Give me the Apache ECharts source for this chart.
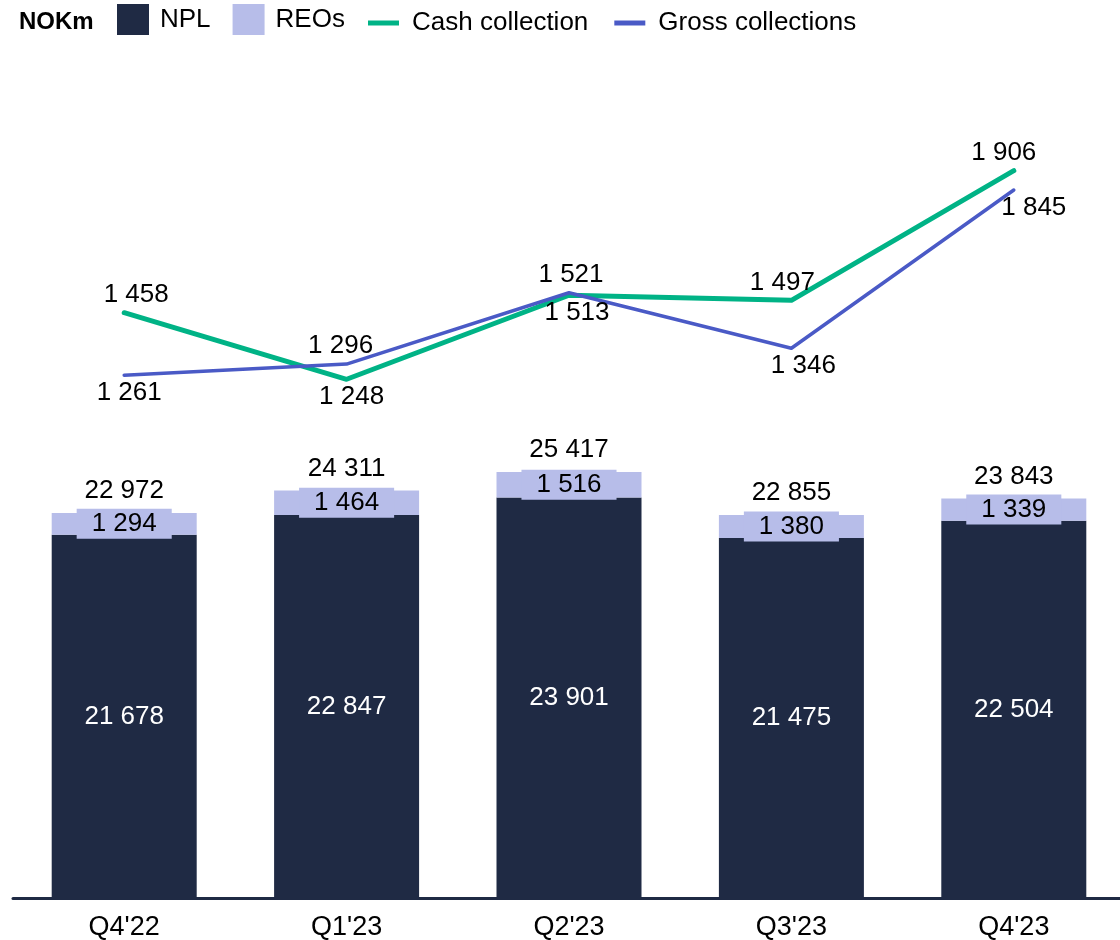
<!DOCTYPE html>
<html>
<head>
<meta charset="utf-8">
<script src="https://cdn.jsdelivr.net/npm/echarts@6/dist/echarts.min.js"></script>
<style>
  html, body { margin: 0; padding: 0; background: #fff; }
  #chart { width: 1120px; height: 940px; }
</style>
</head>
<body>
<div id="chart"></div>
<script>
const quarters = ["Q4'22", "Q1'23", "Q2'23", "Q3'23", "Q4'23"];
const npl = [21678, 22847, 23901, 21475, 22504];
const reos = [1294, 1464, 1516, 1380, 1339];
const cashCollection = [1458, 1248, 1513, 1497, 1906];
const grossCollections = [1261, 1296, 1521, 1346, 1845];

// label placement for the two lines (not data)
const cashLabelPos = ['top', 'bottom', 'bottom', 'top', 'top'];
const cashLabelDx = [12, 5, 8, -9, -10];
const grossLabelPos = ['bottom', 'top', 'top', 'bottom', 'bottom'];
const grossLabelDx = [5, -6, 2, 12, 20];

const NAVY = '#1f2a44';
const LAVENDER = '#b7bde9';
const GREEN = '#00b386';
const BLUE = '#4a5ac6';
const FONT = 'Liberation Sans, Arial, sans-serif';
const FS = 26;

const totals = npl.map((v, i) => v + reos[i]);
const fmt = v => String(v).replace(/\B(?=(\d{3})+(?!\d))/g, ' ');

function lineData(values, pos, dx) {
  return values.map((v, i) => ({
    value: v,
    label: { position: pos[i], offset: [dx[i], 0] }
  }));
}

const chart = echarts.init(document.getElementById('chart'));

chart.setOption({
  animation: false,
  textStyle: { fontFamily: FONT },
  title: {
    text: 'NOKm',
    left: 14,
    top: 5,
    textStyle: { fontFamily: FONT, fontSize: 24, fontWeight: 'bold', color: '#000' }
  },
  legend: [
    {
      data: ['NPL', 'REOs'],
      left: 112,
      top: -1,
      icon: 'rect',
      itemWidth: 32,
      itemHeight: 31,
      itemGap: 22,
      textStyle: { fontFamily: FONT, fontSize: FS, color: '#000', padding: [0, 0, 0, 6] }
    },
    {
      data: ['Cash collection', 'Gross collections'],
      left: 363,
      top: 5,
      icon: 'rect',
      itemWidth: 31,
      itemHeight: 5,
      itemGap: 26,
      textStyle: { fontFamily: FONT, fontSize: FS, color: '#000', padding: [0, 0, 0, 8] }
    }
  ],
  grid: {
    left: 13,
    top: 60,
    width: 1112,
    bottom: 42,
    outerBoundsMode: 'none'
  },
  xAxis: {
    type: 'category',
    data: quarters,
    axisLine: { lineStyle: { color: NAVY, width: 3 } },
    axisTick: { show: false },
    axisLabel: { color: '#000', fontSize: 27, fontFamily: FONT, margin: 16 }
  },
  yAxis: [
    { type: 'value', min: 0, max: 50000, show: false, splitLine: { show: false } },
    { type: 'value', min: -388, max: 2255, show: false, splitLine: { show: false } }
  ],
  series: [
    {
      name: 'NPL',
      type: 'bar',
      stack: 'portfolio',
      barWidth: 145,
      color: NAVY,
      data: npl,
      label: {
        show: true,
        position: 'inside',
        color: '#fff',
        fontSize: FS,
        fontFamily: FONT,
        formatter: p => fmt(p.value)
      }
    },
    {
      name: 'REOs',
      type: 'bar',
      stack: 'portfolio',
      barWidth: 145,
      color: LAVENDER,
      data: reos,
      label: {
        show: true,
        position: 'inside',
        color: '#000',
        fontSize: FS,
        fontFamily: FONT,
        backgroundColor: LAVENDER,
        padding: [3, 15, 1, 15],
        formatter: p => fmt(p.value)
      }
    },
    {
      // total above each bar
      name: 'Total',
      type: 'line',
      data: totals,
      symbol: 'circle',
      symbolSize: 0,
      lineStyle: { width: 0, opacity: 0 },
      label: {
        show: true,
        position: 'top',
        distance: 9,
        color: '#000',
        fontSize: FS,
        fontFamily: FONT,
        formatter: p => fmt(p.value)
      },
      z: 5
    },
    {
      name: 'Cash collection',
      type: 'line',
      yAxisIndex: 1,
      color: GREEN,
      data: lineData(cashCollection, cashLabelPos, cashLabelDx),
      symbol: 'circle',
      symbolSize: 0,
      lineStyle: { width: 5, color: GREEN, cap: 'round', join: 'round' },
      label: {
        show: true,
        distance: 5,
        color: '#000',
        fontSize: FS,
        fontFamily: FONT,
        formatter: p => fmt(p.value)
      },
      z: 4
    },
    {
      name: 'Gross collections',
      type: 'line',
      yAxisIndex: 1,
      color: BLUE,
      data: lineData(grossCollections, grossLabelPos, grossLabelDx),
      symbol: 'circle',
      symbolSize: 0,
      lineStyle: { width: 3.5, color: BLUE, cap: 'round', join: 'round' },
      label: {
        show: true,
        distance: 5,
        color: '#000',
        fontSize: FS,
        fontFamily: FONT,
        formatter: p => fmt(p.value)
      },
      z: 4
    }
  ]
});
</script>
</body>
</html>
